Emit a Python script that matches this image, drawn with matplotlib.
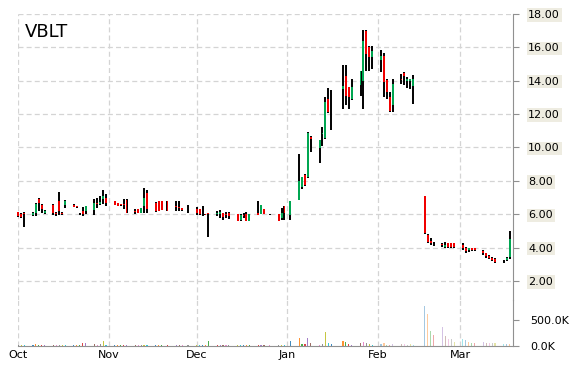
import matplotlib
matplotlib.use('Agg')
import matplotlib.pyplot as plt
import matplotlib.dates as mdates
import matplotlib.colors as mcolors
import pandas as pd
import numpy as np

ticker = "VBLT"

dates = [
    '2014-10-01','2014-10-02','2014-10-03','2014-10-06','2014-10-07','2014-10-08','2014-10-09','2014-10-10',
    '2014-10-13','2014-10-14','2014-10-15','2014-10-16','2014-10-17','2014-10-20','2014-10-21','2014-10-22',
    '2014-10-23','2014-10-24','2014-10-27','2014-10-28','2014-10-29','2014-10-30','2014-10-31',
    '2014-11-03','2014-11-04','2014-11-05','2014-11-06','2014-11-07','2014-11-10','2014-11-11','2014-11-12',
    '2014-11-13','2014-11-14','2014-11-17','2014-11-18','2014-11-19','2014-11-21','2014-11-24','2014-11-25',
    '2014-11-26','2014-11-28',
    '2014-12-01','2014-12-02','2014-12-03','2014-12-04','2014-12-05','2014-12-08','2014-12-09','2014-12-10',
    '2014-12-11','2014-12-12','2014-12-15','2014-12-16','2014-12-17','2014-12-18','2014-12-19','2014-12-22',
    '2014-12-23','2014-12-24','2014-12-26','2014-12-29','2014-12-30','2014-12-31',
    '2015-01-02','2015-01-05','2015-01-06','2015-01-07','2015-01-08','2015-01-09','2015-01-12','2015-01-13',
    '2015-01-14','2015-01-15','2015-01-16','2015-01-20','2015-01-21','2015-01-22','2015-01-23','2015-01-26',
    '2015-01-27','2015-01-28','2015-01-29','2015-01-30',
    '2015-02-02','2015-02-03','2015-02-04','2015-02-05','2015-02-06','2015-02-09','2015-02-10','2015-02-11',
    '2015-02-12','2015-02-13','2015-02-17','2015-02-18','2015-02-19','2015-02-20','2015-02-23','2015-02-24',
    '2015-02-25','2015-02-26','2015-02-27',
    '2015-03-02','2015-03-03','2015-03-04','2015-03-05','2015-03-06','2015-03-09','2015-03-10','2015-03-11',
    '2015-03-12','2015-03-13','2015-03-16','2015-03-17','2015-03-18',
]

opens = [
    6.13,6.03,6.05,5.97,6.07,6.93,6.57,6.07,6.57,6.10,6.80,6.10,6.53,6.57,6.47,6.05,6.17,6.17,6.23,6.65,6.60,6.90,6.97,
    6.77,6.65,6.60,6.60,6.83,6.20,6.30,6.10,6.47,7.30,6.70,6.77,6.77,6.81,6.50,6.45,6.35,6.40,
    6.30,6.30,6.10,6.00,6.05,6.00,6.00,6.07,6.00,6.10,6.00,5.65,5.95,6.00,5.60,6.05,6.01,6.30,6.02,6.00,5.77,6.47,
    5.97,6.87,7.64,8.38,8.24,10.60,9.98,10.80,10.54,12.90,12.15,13.53,14.29,13.61,12.89,13.73,14.00,17.00,16.05,15.45,
    15.25,15.50,14.05,13.00,12.53,14.10,14.49,13.99,14.00,13.69,7.07,4.75,4.40,4.30,4.20,4.05,4.25,4.25,4.25,
    4.15,4.00,3.85,3.95,3.95,3.80,3.65,3.50,3.40,3.30,3.20,3.25,3.45,
]
highs = [
    6.15,6.05,6.15,6.12,6.65,6.95,6.60,6.25,6.60,6.15,7.35,6.12,6.87,6.60,6.48,6.10,6.43,6.50,6.90,6.97,7.07,7.45,7.20,
    6.80,6.67,6.62,6.93,6.90,6.30,6.32,6.40,7.55,7.45,6.72,6.78,6.78,6.82,6.77,6.77,6.36,6.55,
    6.43,6.32,6.51,6.02,6.07,6.17,6.23,6.10,6.15,6.15,6.02,6.00,6.07,6.12,6.02,6.79,6.58,6.32,6.03,6.02,6.37,6.50,
    6.82,9.58,8.26,8.40,10.90,10.70,10.45,11.25,13.05,13.55,13.45,14.93,14.93,13.62,14.13,14.60,17.05,17.05,16.06,16.06,
    15.86,15.65,14.10,13.30,14.09,14.39,14.55,14.25,14.13,14.33,7.07,4.80,4.55,4.35,4.30,4.35,4.30,4.30,4.30,
    4.25,4.05,4.00,4.00,3.95,3.85,3.70,3.55,3.45,3.35,3.25,3.45,5.00,
]
lows = [
    5.85,5.80,5.25,5.88,5.90,6.17,6.05,6.00,5.97,5.87,5.97,5.97,6.37,6.43,6.40,5.97,5.87,6.03,5.97,6.37,6.55,6.60,6.47,
    6.55,6.50,6.52,6.30,6.05,6.00,6.05,6.05,6.05,6.05,6.15,6.17,6.23,6.17,6.17,6.20,6.20,6.05,
    5.97,5.97,5.91,5.96,4.66,5.91,5.77,5.67,5.77,5.73,5.57,5.60,5.77,5.57,5.58,5.97,6.00,6.00,5.98,5.57,5.67,5.67,
    5.63,6.85,7.52,7.67,8.20,9.72,9.08,10.10,10.50,12.08,11.04,12.29,12.53,12.29,12.85,13.09,12.30,14.60,14.59,14.69,
    14.53,13.00,12.90,12.15,12.12,13.79,13.73,13.59,13.50,12.58,4.80,4.25,4.15,4.10,4.05,3.95,4.00,4.00,4.00,
    3.85,3.70,3.75,3.80,3.80,3.55,3.40,3.30,3.20,3.05,3.10,3.20,3.30,
]
closes = [
    5.87,5.82,6.00,6.10,6.63,6.67,6.31,6.21,6.07,6.00,6.20,6.00,6.77,6.45,6.42,6.03,6.03,6.47,6.67,6.60,6.75,7.10,6.65,
    6.57,6.52,6.53,6.55,6.10,6.15,6.10,6.35,6.97,6.30,6.17,6.18,6.24,6.18,6.45,6.40,6.23,6.35,
    6.10,6.00,6.05,5.97,6.00,6.10,6.15,5.85,5.95,5.90,5.60,5.95,5.90,5.60,6.00,5.98,6.55,6.02,6.00,5.60,6.07,6.07,
    6.81,7.97,8.24,7.77,10.88,10.50,10.44,10.85,12.70,12.15,12.10,13.69,13.09,13.05,13.61,14.59,16.40,15.60,15.40,15.79,
    15.49,13.90,13.30,12.20,13.79,14.05,14.29,14.13,14.10,14.09,4.85,4.35,4.30,4.25,4.15,4.15,4.05,4.05,4.05,
    3.95,3.80,3.95,3.85,3.85,3.70,3.50,3.35,3.25,3.15,3.18,3.40,4.50,
]
volumes_k = [
    15,18,15,12,40,15,20,18,12,15,18,15,12,15,18,15,65,65,35,15,40,85,15,
    15,12,15,18,15,12,15,15,15,12,15,15,18,12,15,15,15,15,
    15,15,12,15,85,15,15,15,12,15,15,12,15,15,12,15,15,15,20,20,20,20,
    96,160,30,32,160,50,20,38,256,50,32,96,77,38,20,58,77,64,30,20,
    32,51,20,25,38,38,38,20,38,20,756,596,288,205,365,180,128,128,77,
    128,115,77,64,51,77,64,64,64,64,32,32,32,
]

month_ticks = ['2014-10-01', '2014-11-01', '2014-12-01', '2015-01-01', '2015-02-01', '2015-03-01']
month_labels = ['Oct', 'Nov', 'Dec', 'Jan', 'Feb', 'Mar']
price_ticks = [2, 4, 6, 8, 10, 12, 14, 16, 18]
price_labels = ['2.00', '4.00', '6.00', '8.00', '10.00', '12.00', '14.00', '16.00', '18.00']
vol_ticks = [0, 500]
vol_labels = ['0.0K', '500.0K']

# ---------------------------------------------------------------
W, H = 570, 370
fig = plt.figure(figsize=(W / 100, H / 100), dpi=100)
fig.patch.set_facecolor('white')

x_left, x_right = 18.3, 513.0
y_top, y_mid, y_bot = 14.0, 300.0, 346.0
axp = fig.add_axes([x_left / W, 1 - y_mid / H, (x_right - x_left) / W, (y_mid - y_top) / H])
axv = fig.add_axes([x_left / W, 1 - y_bot / H, (x_right - x_left) / W, (y_bot - y_mid) / H], sharex=axp)

x = mdates.date2num(pd.to_datetime(dates))
o = np.array(opens); h = np.array(highs); l = np.array(lows); c = np.array(closes)
v = np.array(volumes_k)

green = '#00a651'
red = '#f00000'
body_cols = [green if cc >= oo else red for oo, cc in zip(o, c)]

axp.vlines(x, l, h, color='black', lw=1.4, zorder=3, clip_on=False)
body_h = np.where(np.abs(c - o) < 0.02, 0.02, c - o)
axp.bar(x, body_h, bottom=o, width=0.66, color=body_cols, edgecolor='none', zorder=4, clip_on=False)

# volume bars, one palette colour per bar
tab = list(mcolors.TABLEAU_COLORS.values())
cut = mdates.date2num(pd.Timestamp('2015-02-01'))
vcols = []
for i, xi in enumerate(x):
    rgba = list(mcolors.to_rgba(tab[(i + 7) % 10]))
    rgba[3] = 0.85 if xi < cut else 0.4
    vcols.append(tuple(rgba))
axv.bar(x, v, width=0.4, color=vcols, edgecolor='none', zorder=3)

x0 = mdates.date2num(pd.Timestamp('2014-10-01'))
axp.set_xlim(x0, x0 + (x_right - x_left) / 2.925)
axp.set_ylim(0.86, 18)
axv.set_ylim(0, 500 * (y_bot - y_mid) / 26.5)

grid_kw = dict(color='#d4d4d4', linestyle=(0, (4, 2.5)), lw=0.9)
mt = mdates.date2num(pd.to_datetime(month_ticks))
for ax in (axp, axv):
    ax.set_xticks(mt)
    ax.yaxis.tick_right()
    ax.set_facecolor('none')
    for s in ('left', 'top'):
        ax.spines[s].set_visible(False)
    ax.spines['right'].set_color('#909090')
    ax.spines['bottom'].set_color('#909090')
    ax.set_axisbelow(True)
    ax.grid(True, axis='x', **grid_kw)

axp.spines['bottom'].set_visible(False)
axp.grid(True, axis='y', **grid_kw)
axp.tick_params(axis='x', which='both', length=0, labelbottom=False)
axp.set_yticks(price_ticks)
axp.set_yticklabels(price_labels)
axp.tick_params(axis='y', length=4, color='#909090', pad=7, labelsize=8, labelcolor='black')
for lab in axp.get_yticklabels():
    lab.set_bbox(dict(facecolor='#eeece1', edgecolor='none', pad=1.2))

axv.set_yticks(vol_ticks)
axv.set_yticklabels(vol_labels)
axv.tick_params(axis='y', length=4, color='#909090', pad=8.5, labelsize=8, labelcolor='black')
axv.set_xticklabels(month_labels)
axv.tick_params(axis='x', length=0, pad=3, labelsize=8, labelcolor='black')

fig.text(25 / W, 1 - 37.3 / H, ticker, fontsize=13, color='black', ha='left', va='baseline')

fig.savefig('out.png', dpi=100)
